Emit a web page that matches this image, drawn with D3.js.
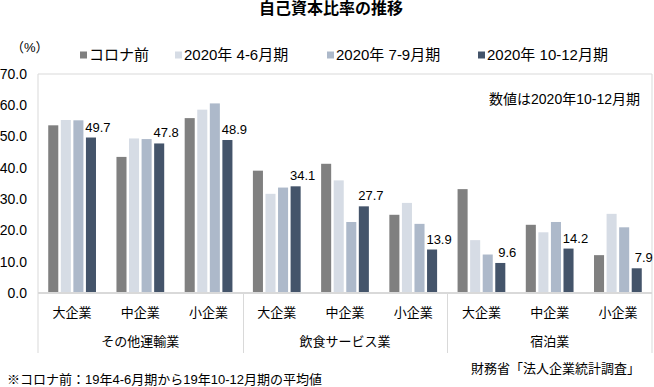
<!DOCTYPE html>
<html>
<head>
<meta charset="utf-8">
<script src="https://cdn.jsdelivr.net/npm/d3@7"></script>
<style>
  body { margin: 0; background: #fff; }
  svg text { font-family: "Liberation Sans", "Noto Sans CJK JP", sans-serif; fill: #000; }
</style>
</head>
<body>
<div id="chart"></div>
<script>
// data
const industries = ['その他運輸業', '飲食サービス業', '宿泊業'];
const sizes = ['大企業', '中企業', '小企業'];
const seriesNames = ['コロナ前', '2020年 4-6月期', '2020年 7-9月期', '2020年 10-12月期'];
const seriesColors = ['#808080', '#d6dce5', '#adb9ca', '#44546a'];
// one value per (industry, size), in order
const preCovid = [53.6, 43.5, 55.9, 39.1, 41.3, 25.0, 33.2, 21.8, 12.1];
const q2 = [55.3, 49.4, 58.6, 31.7, 36.0, 28.8, 16.9, 19.4, 25.3];
const q3 = [55.2, 49.2, 60.6, 33.7, 22.7, 22.1, 12.3, 22.7, 21.0];
const q4 = [49.7, 47.8, 48.9, 34.1, 27.7, 13.9, 9.6, 14.2, 7.9];
const yTicks = [0, 10, 20, 30, 40, 50, 60, 70];

const W = 654, H = 387;
const margins = { left: 38, right: 2, top: 74, bottom: 94 };
const svg = d3.select('#chart').append('svg').attr('width', W).attr('height', H);

const cats = [];
industries.forEach(function (ind) {
	sizes.forEach(function (s) { cats.push(ind + '|' + s); });
});
const values = [preCovid, q2, q3, q4];

const x0 = d3.scaleBand()
	.domain(cats)
	.range([margins.left, W - margins.right])
	.paddingInner(0.3)
	.paddingOuter(0.15);
const x1 = d3.scaleBand()
	.domain(d3.range(seriesNames.length))
	.range([0, x0.bandwidth()])
	.paddingInner(0.2);
const y = d3.scaleLinear()
	.domain([0, 70])
	.range([H - margins.bottom, margins.top]);

const step = x0.step();
const plotL = margins.left, plotR = W - margins.right;
const frameBottom = 353;

// title
svg.append('text')
	.attr('x', 331).attr('y', 14)
	.attr('text-anchor', 'middle')
	.style('font-size', '16px').style('font-weight', 'bold')
	.text('自己資本比率の推移');

// frame
const frameColor = '#d9d9d9';
svg.append('path')
	.attr('d', 'M' + plotL + ',' + frameBottom + 'V' + y(70) + 'H' + plotR + 'V' + frameBottom)
	.attr('fill', 'none').attr('stroke', frameColor).attr('stroke-width', 1);

// group separators
[1, 2].forEach(function (k) {
	const xx = Math.round(plotL + step * 3 * k) + 0.5;
	svg.append('line')
		.attr('x1', xx).attr('x2', xx)
		.attr('y1', y(0)).attr('y2', frameBottom)
		.attr('stroke', frameColor);
});

// y axis labels
svg.append('g').selectAll('text').data(yTicks).enter()
	.append('text')
	.attr('x', 27).attr('y', function (d) { return y(d); })
	.attr('dy', '0.35em')
	.attr('text-anchor', 'end')
	.style('font-size', '14px')
	.text(function (d) { return d.toFixed(1); });

svg.append('text')
	.attr('x', 11).attr('y', 47).attr('dy', '0.35em')
	.style('font-size', '13px')
	.text('（%）');

// bars
const groups = svg.append('g').selectAll('g').data(cats).enter()
	.append('g')
	.attr('transform', function (d) { return 'translate(' + x0(d) + ',0)'; });

groups.selectAll('rect')
	.data(function (d, i) { return values.map(function (v, s) { return { s: s, v: v[i] }; }); })
	.enter().append('rect')
	.attr('x', function (d) { return x1(d.s); })
	.attr('width', x1.bandwidth())
	.attr('y', function (d) { return y(d.v); })
	.attr('height', function (d) { return y(0) - y(d.v); })
	.attr('fill', function (d) { return seriesColors[d.s]; });

// labels on latest quarter
groups.append('text')
	.attr('x', function (d, i) { return x1(3) + x1.bandwidth() / 2 + 7; })
	.attr('y', function (d, i) { return y(q4[i]) - 6; })
	.attr('text-anchor', 'middle')
	.style('font-size', '13px')
	.text(function (d, i) { return q4[i].toFixed(1); });

// baseline
svg.append('line')
	.attr('x1', plotL).attr('x2', plotR)
	.attr('y1', y(0)).attr('y2', y(0))
	.attr('stroke', '#d9d9d9').attr('stroke-width', 2);

// category labels
svg.append('g').selectAll('text').data(cats).enter()
	.append('text')
	.attr('x', function (d) { return x0(d) + x0.bandwidth() / 2; })
	.attr('y', 312).attr('dy', '0.35em')
	.attr('text-anchor', 'middle')
	.style('font-size', '13px')
	.text(function (d) { return d.split('|')[1]; });

svg.append('g').selectAll('text').data(industries).enter()
	.append('text')
	.attr('x', function (d, i) { return plotL + step * (3 * i + 1.5); })
	.attr('y', 341).attr('dy', '0.35em')
	.attr('text-anchor', 'middle')
	.style('font-size', '13px')
	.text(function (d) { return d; });

// legend
const legendX = [80, 175, 327, 478];
const legend = svg.append('g').selectAll('g').data(seriesNames).enter()
	.append('g')
	.attr('transform', function (d, i) { return 'translate(' + legendX[i] + ',55)'; });
legend.append('rect')
	.attr('x', 0).attr('y', -3.5).attr('width', 7).attr('height', 7)
	.attr('fill', function (d, i) { return seriesColors[i]; });
legend.append('text')
	.attr('x', 9).attr('y', 0).attr('dy', '0.35em')
	.style('font-size', '15px')
	.text(function (d) { return d; });

// notes
svg.append('text')
	.attr('x', 640).attr('y', 99).attr('dy', '0.35em')
	.attr('text-anchor', 'end')
	.style('font-size', '14px')
	.text('数値は2020年10-12月期');

svg.append('text')
	.attr('x', 640).attr('y', 368).attr('dy', '0.35em')
	.attr('text-anchor', 'end')
	.style('font-size', '13px')
	.text('財務省「法人企業統計調査」');

svg.append('text')
	.attr('x', 7).attr('y', 379).attr('dy', '0.35em')
	.style('font-size', '13px')
	.text('※コロナ前：19年4-6月期から19年10-12月期の平均値');
</script>
</body>
</html>
